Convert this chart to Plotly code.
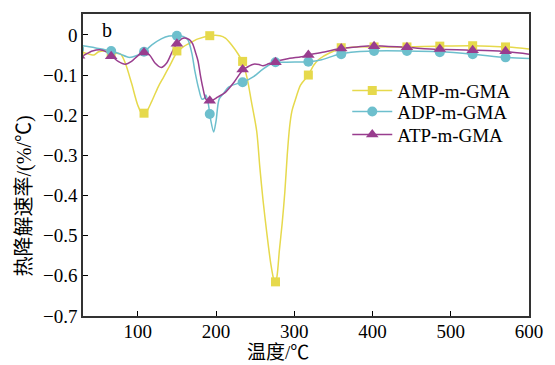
import plotly.graph_objects as go

# ---- data ----
marker_x = [25, 66, 108, 150, 192, 234, 276, 318, 360, 402, 444, 486, 528, 570]
amp_marker_y = [-0.040, -0.047, -0.195, -0.040, -0.002, -0.066, -0.615, -0.100, -0.032, -0.030, -0.030, -0.028, -0.027, -0.030]
adp_marker_y = [-0.035, -0.040, -0.042, -0.002, -0.197, -0.118, -0.068, -0.067, -0.048, -0.040, -0.040, -0.043, -0.048, -0.056]
atp_marker_y = [-0.052, -0.053, -0.044, -0.022, -0.164, -0.086, -0.068, -0.050, -0.034, -0.028, -0.031, -0.035, -0.038, -0.041]

amp_line_x = [25, 30, 38, 44, 50, 58, 67, 78, 84, 92, 100, 106, 110, 118, 126, 133, 140, 150, 158, 165, 177, 192,
              205, 212, 220, 228, 234, 240, 245, 252, 256, 260, 265, 270, 274, 276, 278, 281, 284.5, 288, 291, 294,
              297, 301, 308, 318, 325, 332, 345, 360, 380, 402, 444, 486, 528, 570, 600]
amp_line_y = [-0.042, -0.044, -0.048, -0.050, -0.042, -0.040, -0.045, -0.048, -0.070, -0.120, -0.175, -0.198, -0.195,
              -0.165, -0.130, -0.105, -0.080, -0.044, -0.030, -0.022, -0.010, -0.002, -0.002, -0.008, -0.025, -0.047,
              -0.068, -0.110, -0.164, -0.240, -0.330, -0.410, -0.495, -0.570, -0.610, -0.615, -0.600, -0.536, -0.470,
              -0.390, -0.300, -0.230, -0.190, -0.164, -0.125, -0.100, -0.075, -0.060, -0.045, -0.034, -0.030, -0.030,
              -0.030, -0.028, -0.027, -0.030, -0.035]

adp_line_x = [25, 30, 45, 58, 67, 78, 89, 98, 108, 118, 130, 140, 150, 158, 164, 169, 173, 178, 182, 185, 187, 190,
              193, 197, 200, 204, 210, 216, 226, 234, 248, 260, 273, 290, 318, 335, 357, 380, 400, 444, 486, 528, 570, 600]
adp_line_y = [-0.027, -0.027, -0.032, -0.037, -0.040, -0.048, -0.056, -0.052, -0.042, -0.025, -0.010, -0.003, -0.002,
              -0.004, -0.012, -0.045, -0.090, -0.135, -0.160, -0.158, -0.150, -0.170, -0.210, -0.242, -0.215, -0.160,
              -0.145, -0.130, -0.122, -0.118, -0.104, -0.085, -0.070, -0.068, -0.067, -0.062, -0.048, -0.042, -0.040,
              -0.040, -0.042, -0.048, -0.056, -0.059]

atp_line_x = [25, 30, 42, 55, 62, 67, 75, 84, 92, 100, 108, 115, 122, 130, 137, 144, 150, 156, 160, 166, 170, 174,
              177, 180, 183, 187, 191, 196, 202, 212, 223, 234, 242, 248, 255, 260, 267, 275, 290, 313, 318, 340, 358,
              380, 400, 441, 483, 525, 566, 600]
atp_line_y = [-0.055, -0.052, -0.040, -0.038, -0.045, -0.053, -0.066, -0.073, -0.066, -0.052, -0.044, -0.050, -0.070,
              -0.081, -0.070, -0.042, -0.022, -0.010, -0.008, -0.012, -0.022, -0.045, -0.065, -0.100, -0.130, -0.160,
              -0.165, -0.162, -0.155, -0.143, -0.118, -0.088, -0.078, -0.073, -0.074, -0.077, -0.072, -0.067, -0.060,
              -0.053, -0.050, -0.042, -0.034, -0.030, -0.027, -0.031, -0.036, -0.038, -0.041, -0.048]

series_names = ["AMP-m-GMA", "ADP-m-GMA", "ATP-m-GMA"]
x_tickvals = [100, 200, 300, 400, 500, 600]
x_ticktext = ["100", "200", "300", "400", "500", "600"]
y_tickvals = [0, -0.1, -0.2, -0.3, -0.4, -0.5, -0.6, -0.7]
y_ticktext = ["0", "\u22120.1", "\u22120.2", "\u22120.3", "\u22120.4", "\u22120.5", "\u22120.6", "\u22120.7"]

colors = ["#E6D94C", "#6DBFCD", "#993D8E"]
symbols = ["square", "circle", "triangle-up"]
sizes = [9, 10, 11]

SERIF = "Liberation Serif, Noto Sans CJK SC, serif"

L, R, T, B = 83, 18, 13, 49
W, H = 555, 365
PW, PH = W - L - R, H - T - B

fig = go.Figure()
lines = [(amp_line_x, amp_line_y), (adp_line_x, adp_line_y), (atp_line_x, atp_line_y)]
marks = [amp_marker_y, adp_marker_y, atp_marker_y]
for i in range(3):
    lx, ly = lines[i]
    fig.add_trace(go.Scatter(x=lx, y=ly, mode="lines", showlegend=False,
                             line=dict(color=colors[i], width=1.5, shape="spline", smoothing=0.8),
                             hoverinfo="skip"))
for i in range(3):
    fig.add_trace(go.Scatter(x=marker_x, y=marks[i], mode="markers", showlegend=False,
                             marker=dict(color=colors[i], symbol=symbols[i], size=sizes[i])))
legend_names = ["legend", "legend2", "legend3"]
for i in range(3):
    fig.add_trace(go.Scatter(x=[None], y=[None], mode="lines+markers", name=series_names[i],
                             legend=legend_names[i],
                             line=dict(color=colors[i], width=1.5),
                             marker=dict(color=colors[i], symbol=symbols[i], size=sizes[i])))

legend_rows_px = [90, 111, 134]  # vertical centres of legend rows in the reference
leg_common = dict(xanchor="left", yanchor="middle", bgcolor="rgba(0,0,0,0)",
                  font=dict(family=SERIF, size=19), itemwidth=40)
leg_x = (352 - L) / PW

layout_legends = {}
for i, name in enumerate(legend_names):
    layout_legends[name] = dict(x=leg_x, y=(H - B - legend_rows_px[i]) / PH, **leg_common)

fig.update_layout(
    width=W, height=H,
    margin=dict(l=L, r=R, t=T, b=B),
    paper_bgcolor="white", plot_bgcolor="white",
    font=dict(family=SERIF, size=19, color="black"),
    showlegend=True,
    xaxis=dict(range=[30, 600], tickvals=x_tickvals, ticktext=x_ticktext, ticks="inside", ticklen=5,
               tickwidth=1.3, tickcolor="black", showline=True, linecolor="#333", linewidth=1.5, mirror=True,
               showgrid=False, zeroline=False, tickfont=dict(family=SERIF, size=19), ticklabelstandoff=-3),
    yaxis=dict(range=[-0.7, 0.052], tickvals=y_tickvals, ticktext=y_ticktext, ticks="inside", ticklen=5,
               tickwidth=1.3, tickcolor="black", showline=True, linecolor="#333", linewidth=1.5, mirror=True,
               showgrid=False, zeroline=False, tickfont=dict(family=SERIF, size=19)),
    annotations=[
        dict(text="b", xref="paper", yref="paper", x=0.037, y=0.99, xanchor="left", yanchor="top",
             showarrow=False, font=dict(family=SERIF, size=20)),
        dict(text="温度/℃", xref="paper", yref="paper", x=(282 - L) / PW, y=(H - B - 353) / PH,
             xanchor="center", yanchor="middle", showarrow=False, font=dict(family=SERIF, size=19)),
        dict(text="热降解速率/(%/℃)", xref="paper", yref="paper", x=(23 - L) / PW, y=(H - B - 196) / PH,
             xanchor="center", yanchor="middle", textangle=-90, showarrow=False, font=dict(family=SERIF, size=20)),
    ],
    **layout_legends,
)

fig.write_html("out.html", config={"displayModeBar": False},
               post_script="document.body.style.margin='0';document.body.style.overflow='hidden';")
